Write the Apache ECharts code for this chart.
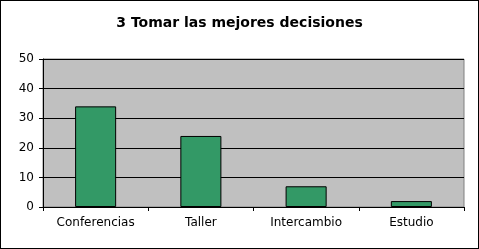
<!DOCTYPE html>
<html>
<head>
<meta charset="utf-8">
<script src="https://cdn.jsdelivr.net/npm/echarts@6/dist/echarts.min.js"></script>
<style>
html,body{margin:0;padding:0;background:#fff;}
#c{width:479px;height:249px;box-sizing:border-box;border:1px solid #000;}
</style>
</head>
<body>
<div id="c"></div>
<script>
const categories = ["Conferencias", "Taller", "Intercambio", "Estudio"];
const values = [34, 24, 7, 2];
const yTicks = { min: 0, max: 50, interval: 10 };

const chart = echarts.init(document.getElementById('c'), null, { renderer: 'canvas' });
chart.setOption({
  animation: false,
  backgroundColor: '#ffffff',
  title: {
    text: '3 Tomar las mejores decisiones',
    left: 'center',
    top: 10,
    textStyle: { fontFamily: 'DejaVu Sans', fontSize: 14, fontWeight: 'bold', color: '#000' }
  },
  grid: {
    left: 42, top: 58, right: 14, bottom: 41,
    show: true, backgroundColor: '#C0C0C0', borderColor: '#808080', borderWidth: 1
  },
  xAxis: {
    type: 'category',
    data: categories,
    axisLine: { lineStyle: { color: '#000', width: 1 } },
    axisTick: { show: true, alignWithLabel: false, length: 4, lineStyle: { color: '#000' } },
    axisLabel: { color: '#000', fontFamily: 'DejaVu Sans', fontSize: 12, margin: 10 }
  },
  yAxis: {
    type: 'value',
    min: yTicks.min, max: yTicks.max, interval: yTicks.interval,
    axisLine: { show: true, lineStyle: { color: '#000', width: 1 } },
    axisTick: { show: true, length: 4, lineStyle: { color: '#000' } },
    axisLabel: { color: '#000', fontFamily: 'DejaVu Sans', fontSize: 12, margin: 9 },
    splitLine: { show: true, lineStyle: { color: '#000', width: 1 } }
  },
  series: [{
    type: 'bar',
    data: values,
    barWidth: '39%',
    itemStyle: { color: '#339966', borderColor: '#000', borderWidth: 1 }
  }]
});
</script>
</body>
</html>
